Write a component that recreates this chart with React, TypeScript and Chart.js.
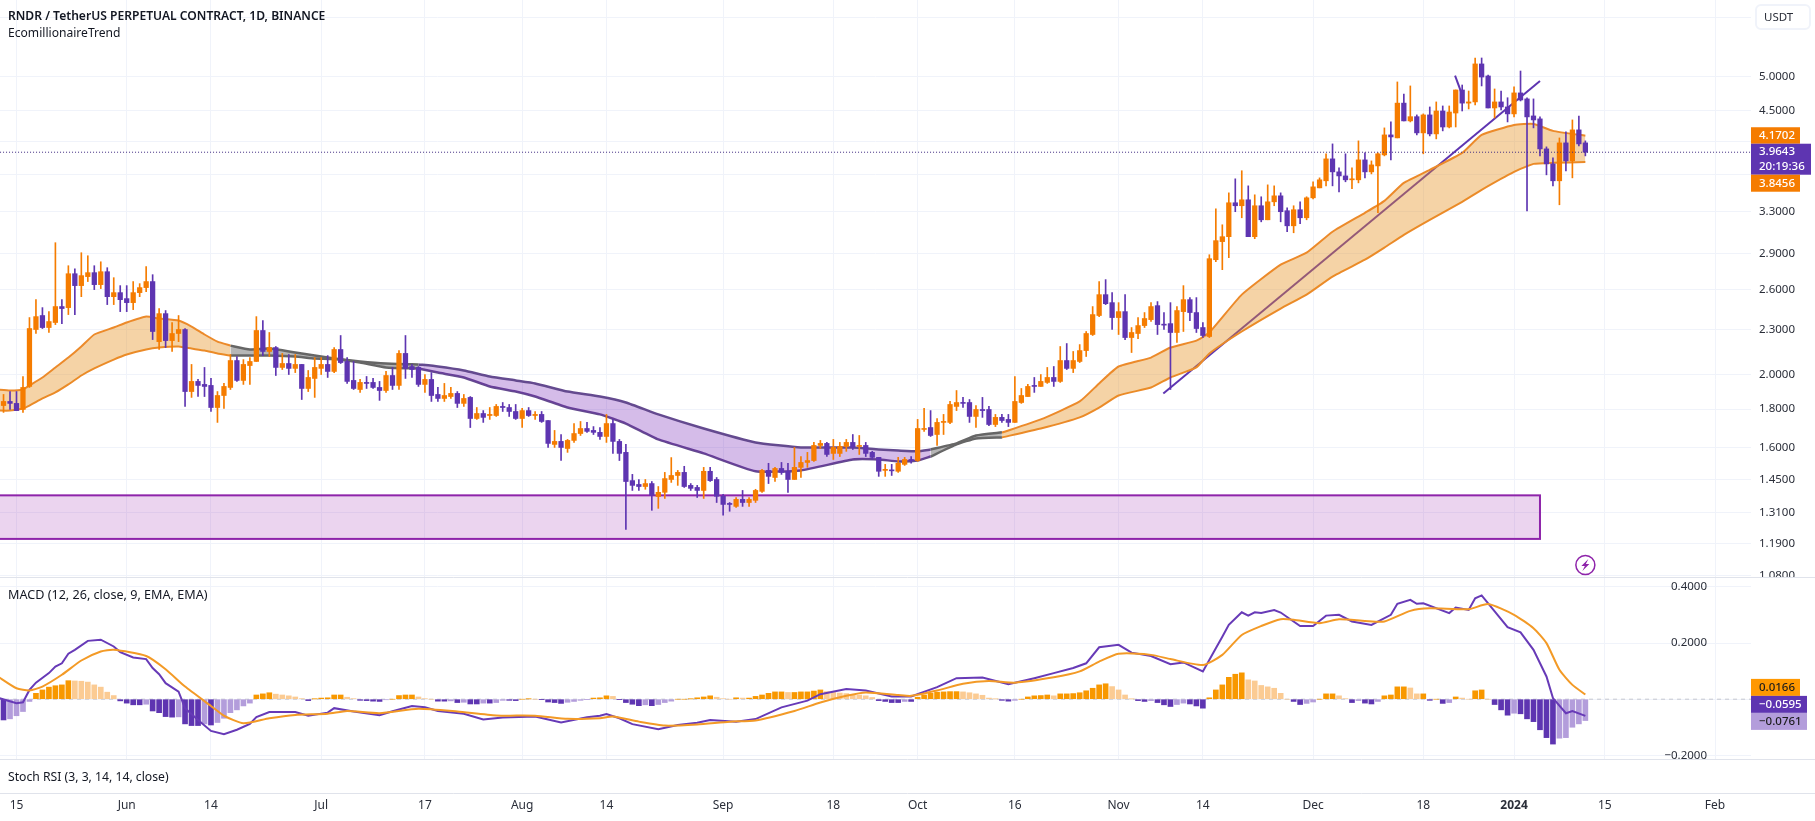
import React, { useEffect, useRef } from "react";
import { Chart, registerables } from "chart.js";

Chart.register(...registerables);

const FONT = '"Noto Sans", "Open Sans", sans-serif';

// daily candles, first one is two days before 15 May 2023 (day 0)
const firstDay = -2;
const opens = [
  1.820,1.843,1.832,1.798,1.930,2.299,2.400,2.313,2.349,2.467,
  2.459,2.729,2.631,2.705,2.738,2.639,2.746,2.543,2.575,2.528,
  2.497,2.575,2.615,2.664,2.215,2.414,2.222,2.271,2.299,1.900,
  1.960,1.942,1.936,1.809,1.877,1.924,2.090,1.966,2.058,2.084,
  2.292,2.149,2.175,2.046,2.071,2.040,2.065,1.918,1.978,2.040,
  2.065,2.021,2.162,2.084,1.966,1.912,1.954,1.954,1.924,1.906,
  1.996,1.936,2.136,2.052,2.046,1.942,1.972,1.883,1.860,1.871,
  1.889,1.832,1.866,1.749,1.776,1.765,1.765,1.815,1.809,1.787,
  1.749,1.792,1.765,1.771,1.738,1.615,1.630,1.595,1.635,1.670,
  1.696,1.686,1.676,1.655,1.722,1.630,1.576,1.445,1.428,1.419,
  1.432,1.376,1.394,1.450,1.468,1.482,1.424,1.415,1.402,1.487,
  1.450,1.377,1.347,1.335,1.364,1.351,1.360,1.398,1.491,1.459,
  1.500,1.487,1.450,1.505,1.528,1.537,1.610,1.620,1.571,1.571,
  1.605,1.625,1.605,1.610,1.576,1.552,1.491,1.493,1.487,1.519,
  1.542,1.537,1.691,1.701,1.665,1.728,1.728,1.815,1.837,1.837,
  1.760,1.798,1.798,1.717,1.755,1.744,1.728,1.837,1.871,1.936,
  1.930,1.954,1.984,1.960,2.090,2.040,2.084,2.155,2.264,2.400,
  2.559,2.497,2.385,2.429,2.243,2.271,2.327,2.370,2.474,2.334,
  2.341,2.278,2.429,2.520,2.422,2.313,2.250,2.849,3.012,3.058,
  3.394,3.363,3.425,3.058,3.363,3.221,3.404,3.467,3.312,3.162,
  3.322,3.241,3.446,3.553,3.631,3.884,3.732,3.686,3.642,3.642,
  3.872,3.732,3.801,3.932,4.181,4.143,4.610,4.365,4.422,4.207,
  4.446,4.194,4.500,4.284,4.472,4.800,4.610,4.627,5.200,5.011,
  4.542,4.627,4.556,4.460,4.757,4.670,4.432,4.392,4.005,3.825,
  3.631,4.080,3.860,4.246,4.080,
];
const highs = [
  1.883,1.900,1.900,1.990,2.385,2.520,2.459,2.429,3.002,2.520,
  2.797,2.771,2.911,2.884,2.797,2.831,2.780,2.696,2.631,2.631,
  2.664,2.647,2.789,2.721,2.452,2.437,2.348,2.400,2.306,2.065,
  1.972,2.046,1.978,1.900,1.948,2.129,2.116,2.096,2.109,2.392,
  2.363,2.278,2.182,2.136,2.129,2.129,2.065,2.027,2.109,2.109,
  2.122,2.175,2.257,2.109,2.084,1.972,1.990,1.978,1.960,2.021,
  2.046,2.155,2.257,2.065,2.052,2.002,2.014,1.924,1.948,1.924,
  1.900,1.883,1.871,1.809,1.792,1.809,1.826,1.837,1.826,1.826,
  1.804,1.809,1.787,1.787,1.738,1.686,1.665,1.640,1.722,1.733,
  1.728,1.706,1.701,1.771,1.744,1.640,1.615,1.473,1.450,1.450,
  1.441,1.419,1.482,1.551,1.491,1.510,1.432,1.424,1.505,1.505,
  1.459,1.385,1.351,1.372,1.402,1.372,1.407,1.496,1.524,1.505,
  1.528,1.524,1.600,1.556,1.576,1.625,1.635,1.625,1.640,1.625,
  1.640,1.665,1.660,1.625,1.581,1.552,1.519,1.519,1.552,1.552,
  1.556,1.744,1.804,1.792,1.749,1.771,1.843,1.906,1.866,1.854,
  1.820,1.866,1.815,1.771,1.771,1.771,1.990,1.918,1.942,1.984,
  2.002,2.046,2.052,2.182,2.202,2.149,2.195,2.285,2.467,2.664,
  2.680,2.575,2.497,2.559,2.313,2.385,2.422,2.497,2.505,2.422,
  2.497,2.467,2.631,2.536,2.536,2.349,2.893,3.332,3.172,3.499,
  3.653,3.745,3.575,3.478,3.457,3.586,3.575,3.499,3.342,3.363,
  3.404,3.457,3.620,3.664,3.945,4.067,3.778,3.945,3.778,4.105,
  3.957,3.860,3.957,4.272,4.351,4.920,4.739,4.860,4.446,4.460,
  4.556,4.627,4.570,4.570,4.800,4.874,4.785,5.296,5.296,5.026,
  4.815,4.785,4.687,4.845,5.088,4.685,4.670,4.419,4.030,3.896,
  4.142,4.220,4.378,4.431,4.105,
];
const lows = [
  1.782,1.798,1.792,1.782,1.924,2.271,2.306,2.278,2.334,2.341,
  2.407,2.407,2.543,2.664,2.599,2.607,2.482,2.482,2.429,2.429,
  2.444,2.543,2.583,2.229,2.162,2.175,2.149,2.215,1.815,1.866,
  1.871,1.871,1.787,1.728,1.804,1.912,1.960,1.942,1.942,2.084,
  2.122,2.116,1.996,2.033,2.002,2.014,1.854,1.900,1.866,2.002,
  1.984,2.014,2.071,1.948,1.912,1.895,1.918,1.918,1.849,1.895,
  1.912,1.912,1.978,1.984,1.930,1.895,1.843,1.843,1.843,1.860,
  1.809,1.815,1.701,1.744,1.728,1.744,1.760,1.787,1.760,1.744,
  1.701,1.760,1.744,1.728,1.600,1.600,1.537,1.576,1.625,1.660,
  1.676,1.665,1.640,1.625,1.571,1.537,1.244,1.402,1.402,1.407,
  1.319,1.327,1.368,1.437,1.424,1.415,1.402,1.372,1.368,1.441,
  1.351,1.299,1.315,1.331,1.335,1.335,1.351,1.394,1.432,1.441,
  1.473,1.394,1.450,1.459,1.505,1.533,1.595,1.556,1.542,1.556,
  1.581,1.590,1.566,1.556,1.542,1.464,1.464,1.468,1.482,1.514,
  1.524,1.533,1.681,1.655,1.610,1.665,1.722,1.792,1.809,1.728,
  1.701,1.755,1.711,1.706,1.728,1.706,1.728,1.832,1.871,1.895,
  1.930,1.948,1.930,1.954,2.033,2.014,2.077,2.116,2.257,2.392,
  2.482,2.299,2.264,2.229,2.142,2.236,2.313,2.356,2.264,2.299,
  1.912,2.209,2.285,2.363,2.278,2.243,2.243,2.832,2.763,2.867,
  3.302,3.241,3.058,3.039,3.201,3.221,3.363,3.201,3.105,3.095,
  3.182,3.221,3.435,3.553,3.575,3.575,3.510,3.620,3.543,3.608,
  3.664,3.709,3.292,3.920,3.872,4.143,4.365,4.351,4.181,3.945,
  4.168,4.130,4.233,4.272,4.284,4.500,4.528,4.584,4.860,4.542,
  4.405,4.514,4.351,4.419,4.641,3.311,4.272,3.920,3.698,3.575,
  3.373,3.743,3.664,4.043,3.920,
];
const closes = [
  1.843,1.832,1.792,1.924,2.306,2.392,2.313,2.356,2.467,2.452,
  2.729,2.631,2.713,2.738,2.639,2.746,2.543,2.575,2.520,2.497,
  2.575,2.615,2.664,2.285,2.414,2.222,2.271,2.299,1.900,1.960,
  1.936,1.930,1.809,1.877,1.930,2.090,1.966,2.065,2.084,2.292,
  2.149,2.175,2.046,2.071,2.040,2.065,1.918,1.984,2.046,2.065,
  2.021,2.162,2.077,1.960,1.918,1.954,1.948,1.924,1.906,1.996,
  1.936,2.136,2.040,2.033,1.942,1.972,1.877,1.860,1.877,1.889,
  1.832,1.860,1.749,1.776,1.755,1.771,1.815,1.809,1.787,1.749,
  1.792,1.765,1.771,1.733,1.620,1.630,1.600,1.635,1.670,1.696,
  1.681,1.676,1.655,1.722,1.630,1.571,1.441,1.424,1.419,1.432,
  1.381,1.394,1.454,1.468,1.482,1.419,1.411,1.402,1.487,1.445,
  1.377,1.343,1.343,1.364,1.351,1.364,1.402,1.491,1.464,1.500,
  1.482,1.450,1.505,1.528,1.537,1.610,1.620,1.566,1.600,1.605,
  1.625,1.600,1.610,1.571,1.552,1.487,1.496,1.489,1.524,1.542,
  1.537,1.696,1.696,1.660,1.728,1.733,1.826,1.837,1.832,1.760,
  1.798,1.792,1.717,1.755,1.738,1.728,1.843,1.877,1.930,1.930,
  1.960,1.984,1.960,2.090,2.040,2.090,2.155,2.271,2.407,2.559,
  2.489,2.385,2.429,2.243,2.278,2.327,2.378,2.467,2.334,2.330,
  2.278,2.437,2.520,2.422,2.306,2.257,2.858,3.021,3.058,3.394,
  3.363,3.425,3.058,3.363,3.221,3.404,3.467,3.302,3.162,3.322,
  3.241,3.446,3.564,3.642,3.884,3.732,3.686,3.642,3.653,3.872,
  3.732,3.813,3.945,4.181,4.155,4.610,4.365,4.422,4.207,4.446,
  4.194,4.500,4.284,4.486,4.800,4.610,4.627,5.200,4.995,4.542,
  4.627,4.556,4.460,4.757,4.655,4.419,4.378,4.005,3.825,3.631,
  4.080,3.860,4.246,4.067,3.964,
];

// trend ribbon, five stretches that change colour
const bandADays = [-3,-1,1,2,4,6,8,10,12,15,17,20,22,25,27,29,31,33];
const bandAUpper = [1.912,1.906,1.912,1.936,1.984,2.046,2.109,2.182,2.264,2.313,2.349,2.392,2.378,2.363,2.320,2.264,2.215,2.188];
const bandALower = [1.792,1.792,1.804,1.820,1.860,1.895,1.942,1.996,2.040,2.096,2.129,2.162,2.175,2.182,2.168,2.155,2.136,2.122];
const bandBDays = [33,36,39,43,46,49,53,57,62];
const bandBUpper = [2.188,2.162,2.168,2.142,2.122,2.103,2.084,2.071,2.065];
const bandBLower = [2.122,2.122,2.122,2.116,2.103,2.100,2.077,2.046,2.040];
const bandCDays = [62,65,69,73,77,80,85,90,94,99,106,114,121,129,133,136,139,141];
const bandCUpper = [2.065,2.052,2.027,1.990,1.966,1.948,1.900,1.871,1.837,1.771,1.696,1.625,1.600,1.600,1.590,1.585,1.581,1.590];
const bandCLower = [2.040,2.014,1.984,1.930,1.900,1.871,1.809,1.771,1.722,1.640,1.571,1.487,1.491,1.542,1.542,1.533,1.537,1.556];
const bandDDays = [141,145,148,152];
const bandDUpper = [1.590,1.620,1.660,1.676];
const bandDLower = [1.556,1.615,1.645,1.650];
const bandEDays = [152,158,164,167,170,175,178,182,184,189,195,199,203,208,211,214,218,223,226,231,234,237,242];
const bandEUpper = [1.675,1.744,1.843,1.948,2.052,2.109,2.175,2.222,2.278,2.559,2.806,2.911,3.105,3.291,3.414,3.608,3.755,3.956,4.181,4.311,4.324,4.233,4.1702];
const bandELower = [1.650,1.696,1.755,1.809,1.877,1.924,1.984,2.046,2.136,2.285,2.452,2.559,2.705,2.849,2.957,3.076,3.221,3.404,3.532,3.732,3.825,3.837,3.8456];

const trendDays = [176.9,235];
const trendPrices = [1.889,4.934];
const shortTrendDays = [221.9,222.9];
const shortTrendPrices = [5.015,4.755];

const zoneDays = [-6,235];
const zonePrices = [1.381,1.208];

// MACD histogram, one bar a day from firstDay
const histogram = [
  -.074,-.070,-.059,-.044,-.008,.021,.033,.043,.048,.051,
  .066,.065,.064,.061,.051,.043,.025,.013,-.006,-.014,
  -.020,-.020,-.018,-.042,-.048,-.062,-.064,-.063,-.088,-.094,
  -.094,-.088,-.092,-.083,-.068,-.048,-.038,-.024,-.014,.015,
  .019,.023,.018,.015,.012,.008,.002,-.005,.001,.004,
  .005,.015,.015,.007,.002,-.004,-.005,-.007,-.008,-.002,
  .000,.013,.015,.015,.008,.002,.000,-.007,-.007,-.006,
  -.012,-.011,-.017,-.017,-.014,-.014,-.012,-.004,-.004,-.005,
  .000,.001,.000,-.001,-.010,-.012,-.015,-.011,-.008,-.004,
  -.001,.004,.005,.012,.010,-.001,-.012,-.018,-.023,-.020,
  -.023,-.019,-.012,-.007,.000,.000,.001,.005,.008,.012,
  .007,.002,.000,.005,.004,.004,.010,.015,.021,.026,
  .026,.024,.024,.026,.026,.029,.033,.027,.024,.022,
  .020,.017,.015,.012,.006,-.005,-.008,-.012,-.012,-.008,
  -.008,.007,.015,.021,.025,.026,.027,.027,.026,.023,
  .019,.014,.004,.001,-.004,-.007,-.004,.000,.008,.012,
  .013,.015,.012,.019,.019,.020,.023,.030,.039,.051,
  .055,.045,.033,.015,.001,-.005,-.008,-.005,-.012,-.020,
  -.026,-.019,-.014,-.017,-.024,-.032,.005,.033,.051,.078,
  .089,.094,.069,.065,.049,.044,.039,.021,.000,-.008,
  -.019,-.015,-.010,.000,.019,.019,.012,.002,-.012,-.005,
  -.014,-.017,-.008,.012,.015,.044,.044,.040,.019,.019,
  -.004,.000,-.015,-.012,.008,.004,.000,.030,.033,.000,
  -.019,-.038,-.057,-.050,-.052,-.070,-.080,-.109,-.137,-.160,
  -.139,-.137,-.100,-.088,-.0761,
];

const macdDays = [-3,0,1,2,3,5,6,7,8,9,11,13,15,16,18,20,21,22,23,25,26,28,30,32,34,36,37,39,43,45,48,49,52,56,58,61,63,65,69,72,75,80,84,88,90,91,93,95,99,102,105,107,111,114,118,122,124,128,131,135,138,142,145,149,153,157,160,163,165,167,170,172,175,178,180,183,185,186,187,189,190,191,192,194,195,198,200,202,204,206,209,212,213,215,216,217,221,222,224,225,226,230,232,234,236,237,239,240,242];
const macdValues = [.006,-.014,-.011,.033,.059,.093,.116,.128,.162,.176,.208,.212,.188,.168,.149,.143,.111,.089,.057,.027,-.032,-.074,-.113,-.125,-.109,-.088,-.064,-.046,-.046,-.059,-.048,-.032,-.044,-.057,-.043,-.024,-.029,-.042,-.052,-.072,-.065,-.062,-.083,-.064,-.059,-.053,-.068,-.089,-.107,-.092,-.084,-.074,-.080,-.071,-.029,-.005,.018,.036,.031,.010,.010,.043,.075,.077,.053,.075,.093,.111,.128,.185,.194,.166,.154,.125,.131,.099,.182,.223,.265,.310,.298,.310,.307,.318,.309,.261,.261,.298,.301,.277,.265,.301,.340,.354,.340,.342,.307,.327,.318,.360,.370,.257,.238,.176,.081,.004,-.050,-.042,-.0595];
const signalDays = [-3,0,2,4,7,10,13,15,20,23,26,30,32,35,39,43,48,51,56,62,68,74,80,85,90,92,96,100,105,110,114,120,124,128,131,136,138,142,146,150,154,160,164,167,170,175,178,183,186,189,192,195,197,201,204,208,211,215,218,224,227,231,234,236,238,240,242];
const signalValues = [.083,.039,.031,.045,.087,.138,.170,.176,.154,.107,.045,-.024,-.059,-.086,-.068,-.056,-.052,-.042,-.050,-.034,-.044,-.058,-.059,-.070,-.068,-.062,-.080,-.094,-.090,-.080,-.076,-.042,-.012,.012,.024,.015,.012,.031,.055,.065,.059,.078,.099,.134,.162,.158,.143,.122,.158,.229,.261,.285,.283,.271,.285,.279,.277,.315,.324,.321,.339,.301,.253,.200,.105,.051,.0166];

// axes
const priceTicks = [6.0,5.0,4.5,4.1,3.7,3.3,2.9,2.6,2.3,2.0,1.8,1.6,1.45,1.31,1.19,1.08];
const priceTicksHidden = [6.0,4.1,3.7];
const macdTicks = [.4,.2,0,-.2];
const macdTicksHidden = [0];
const timeTickDays = [0,17,30,47,63,78,91,109,126,139,154,170,183,200,217,231,245,262];
const timeTickLabels = ["15","Jun","14","Jul","17","Aug","14","Sep","18","Oct","16","Nov","14","Dec","18","2024","15","Feb"];

const lastClose = 3.9643;
const countdown = "20:19:36";
const bandTop = 4.1702;
const bandBottom = 3.8456;
const macdLast = -0.0595;
const signalLast = 0.0166;
const histLast = -0.0761;

const ORANGE = "#f57c00";
const PURPLE = "#5e35b1";
const points = (xs: number[], ys: number[]) => xs.map((x, i) => ({ x, y: ys[i] }));
const noPadding = (s: any) => {
  s.paddingLeft = 0;
  s.paddingRight = 0;
  s.paddingTop = 0;
  s.paddingBottom = 0;
};

function band(days: number[], up: number[], lo: number[], line: string, fill: string, width = 2) {
  const base = { type: "line", yAxisID: "y", pointRadius: 0, borderWidth: width, borderColor: line, tension: 0.15, order: 40 };
  return [
    { ...base, data: points(days, up), fill: { target: "+1", above: fill, below: fill } },
    { ...base, data: points(days, lo), fill: false },
  ];
}

function tag(ctx: any, x1: number, x2: number, y1: number, y2: number, bg: string, fg: string, text: string[]) {
  ctx.fillStyle = bg;
  ctx.fillRect(x1, y1, x2 - x1, y2 - y1);
  ctx.fillStyle = fg;
  ctx.font = `500 11.5px ${FONT}`;
  ctx.textAlign = "left";
  ctx.textBaseline = "middle";
  const h = (y2 - y1) / text.length;
  text.forEach((t, i) => ctx.fillText(t, x1 + 8, y1 + h * (i + 0.5)));
}

const overlay = {
  id: "overlay",
  beforeDatasetsDraw(chart: any) {
    const { ctx, chartArea, scales } = chart;
    const x1 = scales.x.getPixelForValue(zoneDays[0]);
    const x2 = scales.x.getPixelForValue(zoneDays[1]);
    const y1 = scales.y.getPixelForValue(zonePrices[0]);
    const y2 = scales.y.getPixelForValue(zonePrices[1]);
    ctx.save();
    ctx.beginPath();
    ctx.rect(chartArea.left, chartArea.top, chartArea.width, chartArea.height);
    ctx.clip();
    ctx.fillStyle = "rgba(156,39,176,0.2)";
    ctx.fillRect(x1, y1, x2 - x1, y2 - y1);
    ctx.strokeStyle = "#8e24aa";
    ctx.lineWidth = 2;
    ctx.strokeRect(x1, y1, x2 - x1, y2 - y1);
    ctx.restore();
  },
  afterDraw(chart: any) {
    const { ctx, chartArea, scales, width } = chart;
    const right = chartArea.right;
    ctx.save();
    // pane edges hide what runs over them
    ctx.fillStyle = "#ffffff";
    ctx.fillRect(right, 577, width - right, 4);
    ctx.fillRect(right, 759, width - right, 36);
    ctx.strokeStyle = "#e0e3eb";
    ctx.lineWidth = 1;
    [577.5, 759.5, 793.5].forEach((y) => {
      ctx.beginPath();
      ctx.moveTo(0, y);
      ctx.lineTo(width, y);
      ctx.stroke();
    });
    // price tags
    const top = scales.y.getPixelForValue(bandTop);
    const last = scales.y.getPixelForValue(lastClose);
    tag(ctx, right, right + 49, top - 8.5, last - 8.5, ORANGE, "#ffffff", [bandTop.toFixed(4)]);
    tag(ctx, right, right + 60, last - 8.5, last + 22.5, PURPLE, "#ffffff", [lastClose.toFixed(4), countdown]);
    tag(ctx, right, right + 49, last + 22.5, last + 39.5, ORANGE, "#ffffff", [bandBottom.toFixed(4)]);
    // MACD tags
    const m = scales.yM.getPixelForValue(macdLast);
    tag(ctx, right, right + 49, m - 37, m - 20, "#ff9800", "#1c1c1c", [signalLast.toFixed(4)]);
    tag(ctx, right, right + 56, m - 20, m - 3, PURPLE, "#ffffff", ["\u2212" + Math.abs(macdLast).toFixed(4)]);
    tag(ctx, right, right + 56, m - 3, m + 14, "#b39ddb", "#1c1c1c", ["\u2212" + Math.abs(histLast).toFixed(4)]);
    // lightning marker under the last bar
    const ix = scales.x.getPixelForValue(firstDay + closes.length - 1);
    const iy = scales.y.getPixelForValue(1.115);
    ctx.strokeStyle = "#8e24aa";
    ctx.lineWidth = 1.5;
    ctx.beginPath();
    ctx.arc(ix, iy, 9.5, 0, Math.PI * 2);
    ctx.stroke();
    ctx.fillStyle = "#8e24aa";
    ctx.beginPath();
    ctx.moveTo(ix + 3, iy - 6);
    ctx.lineTo(ix - 4, iy + 1);
    ctx.lineTo(ix - 0.5, iy + 1);
    ctx.lineTo(ix - 3, iy + 6);
    ctx.lineTo(ix + 4, iy - 1);
    ctx.lineTo(ix + 0.5, iy - 1);
    ctx.closePath();
    ctx.fill();
    ctx.restore();
  },
};

const legendStyle: React.CSSProperties = {
  position: "absolute",
  left: 8,
  font: `13px/16px ${FONT}`,
  color: "#131722",
  whiteSpace: "nowrap",
};

export default function App() {
  const ref = useRef<HTMLCanvasElement>(null);
  useEffect(() => {
    if (!ref.current) return;
    const candleUp = closes.map((c, i) => c >= opens[i]);
    const candleColor = candleUp.map((u) => (u ? ORANGE : PURPLE));
    const histColor = histogram.map((v, i) => {
      const p = i ? histogram[i - 1] : 0;
      if (v >= 0) return v >= p ? "#f89800" : "#fbcb93";
      return v <= p ? PURPLE : "#b39ddb";
    });
    const days = closes.map((_, i) => firstDay + i);
    const datasets: any[] = [
      { type: "line", yAxisID: "y", data: points(trendDays, trendPrices), borderColor: PURPLE, borderWidth: 2, pointRadius: 0, order: 50, fill: false },
      { type: "line", yAxisID: "y", data: points(shortTrendDays, shortTrendPrices), borderColor: PURPLE, borderWidth: 2, pointRadius: 0, order: 50, fill: false },
      ...band(bandADays, bandAUpper, bandALower, "#ec8a2a", "rgba(230,145,32,0.4)"),
      ...band(bandBDays, bandBUpper, bandBLower, "#666666", "rgba(110,110,110,0.5)", 2.5),
      ...band(bandCDays, bandCUpper, bandCLower, "#644a8f", "rgba(115,32,182,0.3)", 2.5),
      ...band(bandDDays, bandDUpper, bandDLower, "#666666", "rgba(110,110,110,0.5)", 2.5),
      ...band(bandEDays, bandEUpper, bandELower, "#ec8a2a", "rgba(230,145,32,0.4)"),
      {
        type: "line", yAxisID: "y", order: 5, pointRadius: 0, borderWidth: 1, borderDash: [1, 2], borderColor: "#3f2a80", fill: false,
        data: points([-3, 268], [lastClose, lastClose]),
      },
      {
        type: "bar", yAxisID: "y", order: 30, barThickness: 1, backgroundColor: candleColor,
        data: days.map((x, i) => ({ x, y: [lows[i], highs[i]] })),
      },
      {
        type: "bar", yAxisID: "y", order: 20, barThickness: 4.6, minBarLength: 1, backgroundColor: candleColor,
        data: days.map((x, i) => ({ x, y: [opens[i], closes[i]] })),
      },
      {
        type: "line", yAxisID: "yM", order: 16, pointRadius: 0, borderWidth: 1, borderDash: [4, 4], borderColor: "#c4c7cf", fill: false,
        data: points([-3, 268], [0, 0]),
      },
      {
        type: "bar", yAxisID: "yM", order: 15, barThickness: 5, backgroundColor: histColor,
        data: days.map((x, i) => ({ x, y: histogram[i] })),
      },
      { type: "line", yAxisID: "yM", order: 10, pointRadius: 0, borderWidth: 2, borderColor: "#673ab7", fill: false, data: points(macdDays, macdValues) },
      { type: "line", yAxisID: "yM", order: 9, pointRadius: 0, borderWidth: 2, borderColor: "#f39a26", fill: false, tension: 0.2, data: points(signalDays, signalValues) },
    ];
    const chart = new Chart(ref.current, {
      type: "bar",
      data: { datasets },
      plugins: [overlay],
      options: {
        responsive: false,
        animation: false,
        layout: { padding: 0 },
        datasets: { bar: { grouped: false } },
        plugins: { legend: { display: false }, tooltip: { enabled: false } },
        events: [],
        scales: {
          x: {
            type: "linear",
            min: -2.545,
            max: 267.55,
            offset: false,
            position: "bottom",
            afterBuildTicks: (s: any) => { s.ticks = timeTickDays.map((value) => ({ value })); },
            afterFit: (s: any) => { s.height = 62; noPadding(s); },
            grid: { offset: false, color: "#f0f3fa", drawTicks: false },
            border: { display: false },
            ticks: {
              padding: 39,
              autoSkip: false,
              maxRotation: 0,
              color: "#2a2e39",
              font: (c: any) => ({ family: FONT, size: 12, weight: c.tick && c.tick.value === 231 ? "bold" : "normal" }),
              callback: (v: any) => timeTickLabels[timeTickDays.indexOf(v)] ?? "",
            },
          },
          yM: {
            type: "linear",
            position: "right",
            weight: 0,
            min: -0.2132,
            max: 2.4927,
            afterBuildTicks: (s: any) => { s.ticks = macdTicks.map((value) => ({ value })); },
            afterFit: (s: any) => { s.width = 0; noPadding(s); },
            grid: { color: "#f0f3fa", drawTicks: false },
            border: { display: false },
            ticks: {
              mirror: true,
              padding: -44,
              color: "#2a2e39",
              font: { family: FONT, size: 11.5 },
              callback: (v: any) => macdTicksHidden.includes(v) ? "" : (v < 0 ? "\u2212" : "") + Math.abs(v).toFixed(4),
            },
          },
          y: {
            type: "logarithmic",
            position: "right",
            weight: 1,
            bounds: "data",
            min: 0.6142,
            max: 6.329,
            afterBuildTicks: (s: any) => { s.ticks = priceTicks.map((value) => ({ value })); },
            afterFit: (s: any) => { s.width = 64; noPadding(s); },
            grid: { color: "#f0f3fa", drawTicks: false },
            border: { display: false },
            ticks: {
              padding: 8,
              autoSkip: false,
              color: "#2a2e39",
              font: { family: FONT, size: 11.5 },
              callback: (v: any) => priceTicksHidden.includes(v) ? "" : Number(v).toFixed(4),
            },
          },
        },
      },
    } as any);
    return () => chart.destroy();
  }, []);
  return (
    <div style={{ position: "fixed", left: 0, top: 0, width: 1815, height: 821, background: "#ffffff", overflow: "hidden" }}>
      <canvas ref={ref} width={1815} height={821} style={{ display: "block" }} />
      <div style={{ ...legendStyle, top: 8, fontWeight: 600, fontSize: 12.1 }}>RNDR / TetherUS PERPETUAL CONTRACT, 1D, BINANCE</div>
      <div style={{ ...legendStyle, top: 25, fontSize: 12.1 }}>EcomillionaireTrend</div>
      <div style={{ ...legendStyle, top: 587, fontSize: 12.6 }}>MACD (12, 26, close, 9, EMA, EMA)</div>
      <div style={{ ...legendStyle, top: 769, fontSize: 12.2 }}>Stoch RSI (3, 3, 14, 14, close)</div>
      <div style={{ position: "absolute", left: 1755, top: 4, width: 45, height: 22, border: "2px solid #f0f3fa", borderRadius: 6, font: `11.5px/22px ${FONT}`, color: "#2a2e39", paddingLeft: 7, boxSizing: "content-box" }}>USDT</div>
    </div>
  );
}
